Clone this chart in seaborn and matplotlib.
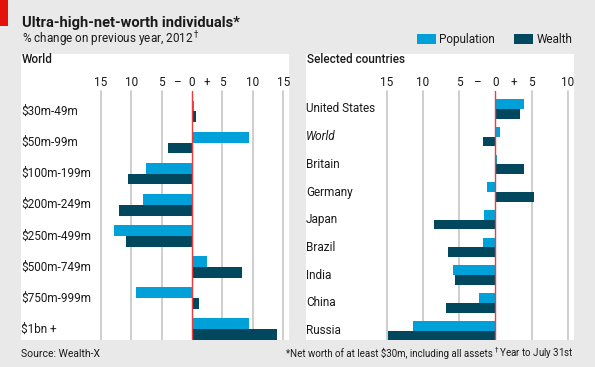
import pandas as pd
import matplotlib
matplotlib.use("Agg")
import matplotlib.pyplot as plt
import matplotlib.transforms as mtransforms
from matplotlib.patches import Patch, Rectangle
import seaborn as sns

# World, by wealth band (% change on previous year)
bands = ["$30m-49m", "$50m-99m", "$100m-199m", "$200m-249m",
         "$250m-499m", "$500m-749m", "$750m-999m", "$1bn +"]
band_population = [0.4, 9.3, -7.6, -8.1, -12.8, 2.5, -9.2, 9.4]
band_wealth = [0.6, -4.0, -10.6, -12.0, -10.9, 8.3, 1.2, 14.0]

# Selected countries
countries = ["United States", "World", "Britain", "Germany", "Japan",
             "Brazil", "India", "China", "Russia"]
country_population = [4.0, 0.65, 0.2, -1.2, -1.6, -1.75, -5.85, -2.2, -11.3]
country_wealth = [3.4, -1.7, 4.0, 5.4, -8.5, -6.5, -5.6, -6.8, -14.8]

tick_values = [-15, -10, -5, -2.5, 0, 2.5, 5, 10, 15]
tick_labels = ["15", "10", "5", "\u2013", "0", "+", "5", "10", "15"]

BG = "#e9e9e9"
POP = "#00a1d9"
WEALTH = "#01485f"
RED = "#ee3b3b"
TXT = "#1a1a1a"

sns.set_theme(style="white")
plt.rcParams["font.family"] = ["Roboto", "DejaVu Sans"]


def long_frame(cats, pop, wealth):
    return pd.DataFrame({
        "category": cats * 2,
        "series": ["Population"] * len(cats) + ["Wealth"] * len(cats),
        "value": pop + wealth,
    })


def draw_panel(ax, df, cats, xlim, ylim, ticks, labels, title, italic=None):
    sns.barplot(data=df, x="value", y="category", hue="series", order=cats,
                hue_order=["Population", "Wealth"], palette=[POP, WEALTH],
                orient="h", width=0.7, saturation=1, linewidth=0,
                legend=False, ax=ax)
    ax.set_xlim(*xlim)
    ax.set_ylim(*ylim)
    ax.set_facecolor("white")
    for s in ax.spines.values():
        s.set_visible(False)
    ax.set_xticks([])
    ax.set_yticks([])
    ax.set_xlabel("")
    ax.set_ylabel("")
    trans = mtransforms.blended_transform_factory(ax.transData, ax.transAxes)
    for v, lab in zip(ticks, labels):
        if v < xlim[0] or v > xlim[1]:
            continue
        ax.text(v, 0.899, lab, transform=trans, ha="center", va="center",
                fontsize=8.5, color=TXT)
        if lab not in ("\u2013", "+"):
            ax.axvline(v, ymin=0, ymax=0.871,
                       color=RED if v == 0 else "#c6c6c6",
                       lw=1.0 if v == 0 else 1.2, zorder=0.5 if v else 3)
    ytrans = mtransforms.blended_transform_factory(ax.transAxes, ax.transData)
    for i, c in enumerate(cats):
        ax.text(0.0, i, c, transform=ytrans, ha="left", va="center",
                fontsize=8.5, color=TXT,
                style="italic" if c == italic else "normal")
    ax.text(0.003, 0.968, title, transform=ax.transAxes, ha="left",
            va="baseline", fontsize=8.5, fontweight="medium", color=TXT)


fig = plt.figure(figsize=(5.95, 3.67), dpi=100, facecolor=BG)
W, H = 595, 367

ax1 = fig.add_axes([21 / W, (H - 340) / H, (288.5 - 21) / W, 286 / H])
draw_panel(ax1, long_frame(bands, band_population, band_wealth), bands,
           ((21 - 192) / 6.08, (288.5 - 192) / 6.08), (7.35, -1.846),
           tick_values, tick_labels, "World")

ax2 = fig.add_axes([306 / W, (H - 340) / H, (574 - 306) / W, 286 / H])
draw_panel(ax2, long_frame(countries, country_population, country_wealth),
           countries, ((306 - 495.3) / 7.24, (574 - 495.3) / 7.24),
           (8.34, -1.985), tick_values, tick_labels, "Selected countries",
           italic="World")

# header
fig.add_artist(Rectangle((0, 1 - 26 / H), 8 / W, 26 / H, color="#e3120b",
                         transform=fig.transFigure, lw=0))
fig.text(22 / W, 1 - 27 / H, "Ultra-high-net-worth individuals*",
         fontsize=10.5, fontweight="bold", color=TXT, va="baseline")
fig.text(22 / W, 1 - 43.5 / H, r"% change on previous year, 2012$^\dagger$",
         fontsize=8.5, color=TXT, va="baseline")

handles = [Patch(color=POP, lw=0), Patch(color=WEALTH, lw=0)]
fig.legend(handles, ["Population", "Wealth"], loc="center right",
           bbox_to_anchor=(578 / W, 1 - 39.5 / H), ncol=2, frameon=False,
           fontsize=8.5, handlelength=1.6, handleheight=0.85,
           handletextpad=0.3, columnspacing=1.6, borderpad=0,
           labelcolor=TXT)

# footer
fig.text(21 / W, 1 - 357 / H, "Source: Wealth-X", fontsize=7.5, color=TXT,
         va="baseline")
fig.text(286 / W, 1 - 357 / H,
         "*Net worth of at least $30m, including all assets",
         fontsize=7, color=TXT, va="baseline", ha="left")
fig.text(574 / W, 1 - 357 / H, r"$^\dagger$Year to July 31st", fontsize=7,
         color=TXT, va="baseline", ha="right")

fig.savefig("out.png", dpi=100, facecolor=BG)
